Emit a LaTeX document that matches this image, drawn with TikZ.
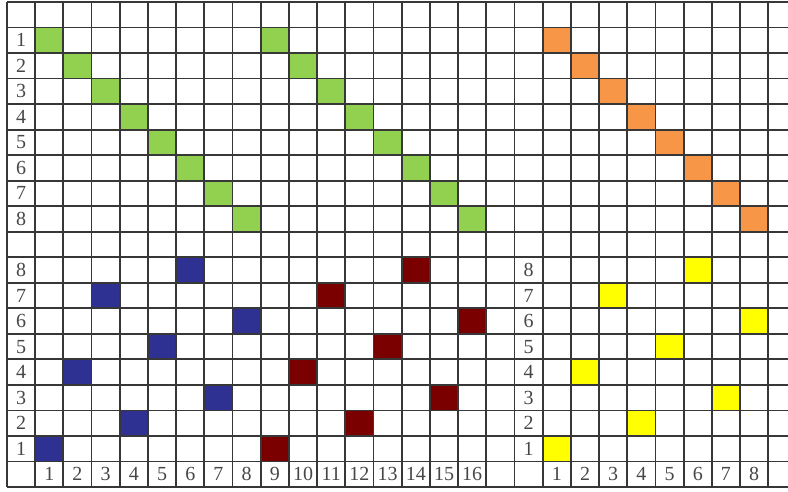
\documentclass[tikz,border=0pt]{standalone}
\usepackage{fontspec}
\setmainfont{Liberation Serif}
\usepackage{tikz}

\definecolor{cellgreen}{RGB}{146,208,80}
\definecolor{cellorange}{RGB}{247,150,70}
\definecolor{cellblue}{RGB}{46,49,146}
\definecolor{cellred}{RGB}{122,0,0}
\definecolor{cellyellow}{RGB}{255,255,0}
\definecolor{gridgray}{RGB}{55,55,55}

\tikzset{
  gridline/.style={draw=gridgray, line width=0.9pt},
  lbl/.style={text=black!72, font=\fontsize{10}{11}\selectfont, inner sep=0pt}
}

\begin{document}
\begin{tikzpicture}[x=14.1pt, y=-12.765pt]

  \useasboundingbox (-0.248,-0.078) rectangle (27.70,19.19);
  \clip (-0.248,-0.078) rectangle (27.70,19.19);

  % diagonals in the upper half
  \foreach \i in {1,...,8} {
    \fill[cellgreen] (\i,\i) rectangle ++(1,1);
    \fill[cellgreen] (\i+8,\i) rectangle ++(1,1);
    \fill[cellorange] (\i+18,\i) rectangle ++(1,1);
  }

  % lower half: column / row label
  \foreach \c/\v in {1/1,2/4,3/7,4/2,5/5,6/8,7/3,8/6} {
    \fill[cellblue] (\c,18-\v) rectangle ++(1,1);
    \fill[cellred] (\c+8,18-\v) rectangle ++(1,1);
    \fill[cellyellow] (\c+18,18-\v) rectangle ++(1,1);
  }

  % the grid
  \foreach \x in {0,...,28} {
    \draw[gridline] (\x,0) -- (\x,19);
  }
  \foreach \y in {0,...,19} {
    \draw[gridline] (0,\y) -- (28,\y);
  }

  % row labels
  \foreach \i in {1,...,8} {
    \node[lbl] (top\i) at (0.5,\i+0.5) {\i};
    \node[lbl] (left\i) at (0.5,17.5-\i+1) {\i};
    \node[lbl] (right\i) at (18.5,17.5-\i+1) {\i};
    \node[lbl] (botr\i) at (18.5+\i,18.5) {\i};
  }

  % column labels
  \foreach \i in {1,...,16} {
    \node[lbl] (bot\i) at (\i+0.5,18.5) {\i};
  }

%  \foreach \i in {0,...,27} {
%    \fill[red] (\i,0) circle (1pt);
%  }
\end{tikzpicture}
\end{document}
